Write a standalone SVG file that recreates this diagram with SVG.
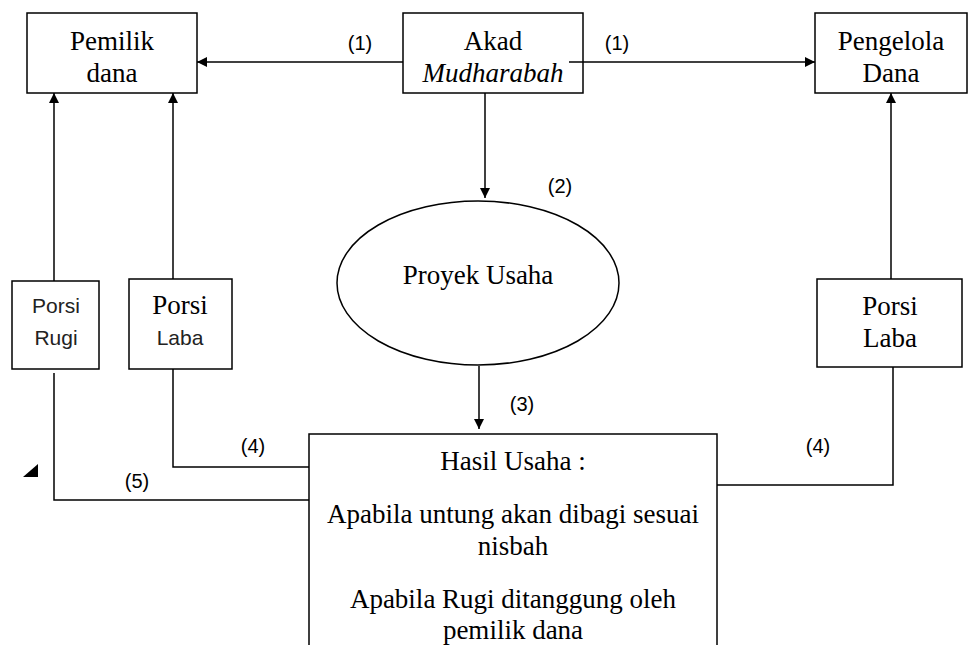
<svg xmlns="http://www.w3.org/2000/svg" width="977" height="645" viewBox="0 0 977 645">
<style>
.box{fill:#fff;stroke:#000;stroke-width:1.5}
.ln{fill:none;stroke:#000;stroke-width:1.5}
.serif{font-family:"Liberation Serif","Times New Roman",serif;font-size:27px;fill:#000;text-anchor:middle}
.ital{font-family:"Liberation Serif","Times New Roman",serif;font-style:italic;font-size:27px;fill:#000;text-anchor:middle}
.sans{font-family:"Liberation Sans",Arial,sans-serif;font-size:20px;fill:#000;text-anchor:middle}
.sansb{font-family:"Liberation Sans",Arial,sans-serif;font-size:21px;fill:#222;text-anchor:middle}
</style>
<defs>
<marker id="arr" markerWidth="10" markerHeight="10" refX="10" refY="5" orient="auto" markerUnits="userSpaceOnUse">
<path d="M0,0 L10,5 L0,10 Z" fill="#000"/>
</marker>
</defs>
<rect width="977" height="645" fill="#fff"/>
<g id="pemilik">
<rect class="box" x="27" y="13" width="170" height="80"/>
<text class="serif" x="112" y="50">Pemilik</text>
<text class="serif" x="112" y="82">dana</text>
</g>
<g id="akad">
<rect class="box" x="403" y="13" width="180" height="80"/>
<text class="serif" x="493" y="50">Akad</text>
<text class="ital" x="493" y="82">Mudharabah</text>
</g>
<g id="pengelola">
<rect class="box" x="815" y="13" width="152" height="80"/>
<text class="serif" x="891" y="50">Pengelola</text>
<text class="serif" x="891" y="82">Dana</text>
</g>
<g id="proyek">
<ellipse class="box" cx="478" cy="283" rx="141" ry="82"/>
<text class="serif" x="478" y="284">Proyek Usaha</text>
</g>
<g id="porsi-rugi">
<rect class="box" x="12" y="281" width="87" height="88"/>
<text class="sansb" x="56" y="313">Porsi</text>
<text class="sansb" x="56" y="345">Rugi</text>
</g>
<g id="porsi-laba-kiri">
<rect class="box" x="129" y="279" width="103" height="90"/>
<text class="serif" x="180" y="314">Porsi</text>
<text class="sansb" x="180" y="345">Laba</text>
</g>
<g id="porsi-laba-kanan">
<rect class="box" x="817" y="279" width="145" height="88"/>
<text class="serif" x="890" y="315">Porsi</text>
<text class="serif" x="890" y="347">Laba</text>
</g>
<g id="hasil">
<rect class="box" x="309" y="434" width="408" height="230"/>
<text class="serif" x="513" y="470">Hasil Usaha :</text>
<text class="serif" x="513" y="523">Apabila untung akan dibagi sesuai</text>
<text class="serif" x="513" y="555">nisbah</text>
<text class="serif" x="513" y="608">Apabila Rugi ditanggung oleh</text>
<text class="serif" x="513" y="639">pemilik dana</text>
</g>
<g id="connectors">
<line class="ln" x1="403" y1="62" x2="197" y2="62" marker-end="url(#arr)"/>
<line class="ln" x1="569" y1="62" x2="815" y2="62" marker-end="url(#arr)"/>
<line class="ln" x1="485" y1="93" x2="485" y2="198" marker-end="url(#arr)"/>
<line class="ln" x1="479" y1="366" x2="479" y2="429" marker-end="url(#arr)"/>
<line class="ln" x1="54" y1="281" x2="54" y2="93" marker-end="url(#arr)"/>
<line class="ln" x1="173" y1="279" x2="173" y2="93" marker-end="url(#arr)"/>
<line class="ln" x1="891" y1="279" x2="891" y2="93" marker-end="url(#arr)"/>
<polyline class="ln" points="54,373 54,500 309,500"/>
<polyline class="ln" points="173,369 173,467 309,467"/>
<polyline class="ln" points="893,367 893,485 717,485"/>
<path d="M23,477 L38,477 L38,464 Z" fill="#000"/>
<text class="sans" x="360" y="50">(1)</text>
<text class="sans" x="617" y="50">(1)</text>
<text class="sans" x="560" y="193">(2)</text>
<text class="sans" x="522" y="411">(3)</text>
<text class="sans" x="253" y="453">(4)</text>
<text class="sans" x="818" y="453">(4)</text>
<text class="sans" x="137" y="488">(5)</text>
</g>
</svg>
